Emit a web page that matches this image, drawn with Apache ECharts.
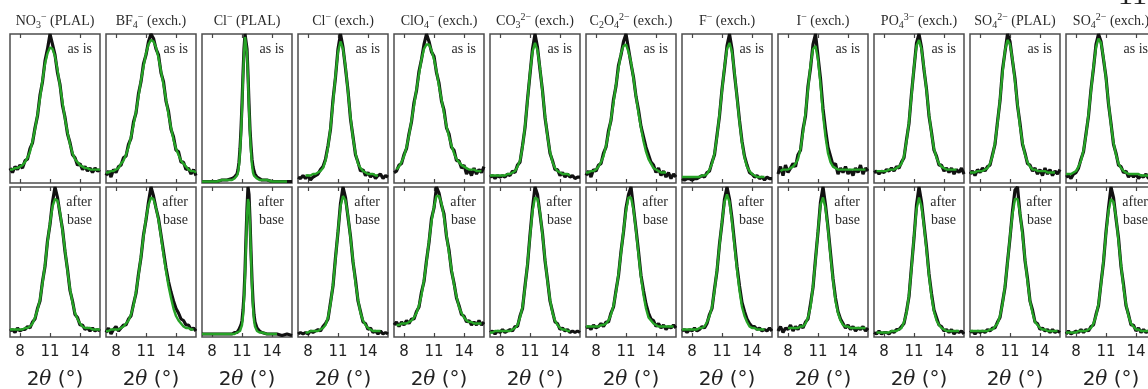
<!DOCTYPE html>
<html><head><meta charset="utf-8">
<script src="https://cdn.jsdelivr.net/npm/echarts@6/dist/echarts.min.js"></script>
<style>html,body{margin:0;padding:0;background:#fff}#c{width:1148px;height:389px}</style>
</head><body><div id="c"></div>
<script>
// 2θ grids (degrees)
const X = [7,7.25,7.5,7.75,8,8.25,8.5,8.75,9,9.25,9.5,9.75,10,10.25,10.5,10.75,11,11.25,11.5,11.75,12,12.25,12.5,12.75,13,13.25,13.5,13.75,14,14.25,14.5,14.75,15,15.25,15.5,15.75,16];
const XN = [7,7.5,8,8.5,9,9.5,10,10.25,10.5,10.6,10.7,10.8,10.9,11,11.1,11.2,11.3,11.4,11.5,11.6,11.7,11.8,11.9,12,12.1,12.2,12.3,12.5,12.75,13,13.5,14,14.5,15,15.5,16];
const titles = [
 '{b|NO}{sub|3}{sup|−}{b| (PLAL)}',
 '{b|BF}{sub|4}{sup|−}{b| (exch.)}',
 '{b|Cl}{sup|−}{b| (PLAL)}',
 '{b|Cl}{sup|−}{b| (exch.)}',
 '{b|ClO}{sub|4}{sup|−}{b| (exch.)}',
 '{b|CO}{sub|3}{sup|2−}{b| (exch.)}',
 '{b|C}{sub|2}{b|O}{sub|4}{sup|2−}{b| (exch.)}',
 '{b|F}{sup|−}{b| (exch.)}',
 '{b|I}{sup|−}{b| (exch.)}',
 '{b|PO}{sub|4}{sup|3−}{b| (exch.)}',
 '{b|SO}{sub|4}{sup|2−}{b| (PLAL)}',
 '{b|SO}{sub|4}{sup|2−}{b| (exch.)}'
];
const noteTop = ['as is'];
const noteBottom = ['after', 'base'];
const xTicks = [8, 11, 14];
const axisTitle = '{n|2}{t|θ}{n| (°)}';
const pageNum = '11';

// Row A: "as is" — fit (green) and observed (black), normalised intensity
const fitA0 = [0.09,0.09,0.10,0.10,0.11,0.12,0.14,0.17,0.21,0.28,0.36,0.46,0.57,0.69,0.80,0.87,0.91,0.90,0.85,0.76,0.65,0.54,0.43,0.34,0.26,0.20,0.16,0.14,0.12,0.11,0.10,0.10,0.09,0.09,0.09,0.09,0.09];
const obsA0 = [0.10,0.07,0.11,0.09,0.12,0.10,0.15,0.16,0.23,0.27,0.37,0.45,0.59,0.68,0.82,0.90,1.00,0.93,0.86,0.74,0.66,0.52,0.44,0.33,0.27,0.19,0.17,0.12,0.13,0.09,0.11,0.08,0.10,0.07,0.10,0.08,0.09];
const fitA1 = [0.07,0.07,0.08,0.08,0.09,0.10,0.13,0.15,0.19,0.24,0.31,0.39,0.48,0.58,0.69,0.78,0.87,0.93,0.96,0.95,0.91,0.84,0.75,0.66,0.56,0.46,0.37,0.29,0.23,0.19,0.15,0.13,0.11,0.09,0.08,0.08,0.07];
const obsA1 = [0.05,0.08,0.04,0.09,0.07,0.11,0.12,0.17,0.18,0.26,0.30,0.41,0.47,0.60,0.68,0.80,0.86,0.95,1.00,0.97,0.90,0.86,0.74,0.68,0.55,0.48,0.36,0.31,0.22,0.21,0.14,0.14,0.09,0.10,0.06,0.09,0.05];
const fitA2 = [0.01,0.01,0.01,0.01,0.02,0.02,0.02,0.03,0.05,0.07,0.12,0.21,0.33,0.50,0.70,0.87,0.98,0.98,0.87,0.70,0.50,0.33,0.21,0.12,0.07,0.05,0.04,0.03,0.02,0.02,0.02,0.01,0.01,0.01,0.01,null];
const obsA2 = [0.01,0.01,0.01,0.01,0.02,0.02,0.03,0.04,0.06,0.09,0.14,0.23,0.36,0.53,0.73,0.90,1.00,1.00,0.90,0.73,0.53,0.36,0.25,0.16,0.11,0.08,0.06,0.04,0.03,0.02,0.02,0.01,0.01,0.01,0.01,0.01];
const fitA3 = [null,null,null,0.05,0.05,0.05,0.06,0.06,0.07,0.08,0.10,0.15,0.24,0.37,0.54,0.72,0.88,0.95,0.90,0.78,0.61,0.44,0.30,0.20,0.13,0.10,0.08,0.07,0.06,0.06,0.06,0.05,0.05,null,null,null,null];
const obsA3 = [0.04,0.03,0.05,0.03,0.05,0.02,0.04,0.05,0.06,0.09,0.11,0.16,0.25,0.36,0.56,0.71,0.90,1.00,0.91,0.77,0.62,0.43,0.31,0.19,0.14,0.08,0.09,0.05,0.07,0.04,0.06,0.03,0.05,0.06,0.03,0.05,0.04];
const fitA4 = [null,0.09,0.11,0.14,0.18,0.24,0.32,0.42,0.52,0.63,0.73,0.83,0.90,0.93,0.93,0.89,0.83,0.75,0.65,0.56,0.47,0.38,0.31,0.25,0.20,0.16,0.14,0.12,0.11,0.10,0.09,0.09,0.09,0.08,0.08,0.08,null];
const obsA4 = [0.07,0.08,0.12,0.13,0.19,0.23,0.33,0.41,0.54,0.62,0.75,0.83,0.93,1.00,0.95,0.88,0.85,0.74,0.67,0.55,0.49,0.37,0.33,0.24,0.22,0.15,0.15,0.10,0.12,0.06,0.09,0.05,0.10,0.06,0.09,0.07,0.11];
const fitA5 = [0.05,0.05,0.05,0.05,0.05,0.05,0.05,0.06,0.06,0.07,0.08,0.11,0.15,0.24,0.38,0.55,0.74,0.88,0.94,0.89,0.77,0.61,0.45,0.31,0.21,0.14,0.10,0.08,0.07,0.06,0.06,0.06,0.05,null,null,null,null];
const obsA5 = [0.04,0.05,0.03,0.05,0.04,0.05,0.04,0.06,0.05,0.08,0.07,0.12,0.14,0.25,0.37,0.56,0.73,0.90,1.00,0.91,0.76,0.62,0.44,0.32,0.20,0.15,0.09,0.09,0.05,0.07,0.04,0.06,0.04,0.05,0.03,0.04,0.04];
const fitA6 = [0.07,0.07,0.08,0.08,0.09,0.11,0.14,0.18,0.25,0.33,0.43,0.54,0.66,0.77,0.87,0.92,0.93,0.88,0.81,0.70,0.58,0.47,0.37,0.28,0.21,0.16,0.13,0.10,0.09,0.08,0.07,0.07,0.07,null,null,null,null];
const obsA6 = [0.05,0.08,0.04,0.09,0.08,0.12,0.13,0.20,0.24,0.35,0.42,0.56,0.65,0.79,0.86,0.95,1.00,0.90,0.80,0.71,0.58,0.49,0.38,0.31,0.24,0.19,0.14,0.12,0.07,0.10,0.05,0.08,0.04,0.07,0.03,0.06,0.04];
const fitA7 = [0.04,0.04,0.04,0.04,0.04,0.04,0.04,0.04,0.05,0.05,0.06,0.09,0.13,0.20,0.31,0.46,0.62,0.78,0.90,0.94,0.88,0.74,0.57,0.41,0.27,0.17,0.11,0.08,0.06,0.05,0.04,0.04,0.04,0.04,null,null,null];
const obsA7 = [0.03,0.02,0.03,0.03,0.02,0.03,0.03,0.04,0.05,0.04,0.07,0.08,0.14,0.19,0.32,0.45,0.63,0.77,0.92,1.00,0.90,0.73,0.58,0.42,0.28,0.18,0.12,0.07,0.06,0.04,0.05,0.03,0.04,0.02,0.04,0.03,0.03];
const fitA8 = [null,0.08,0.09,0.09,0.09,0.10,0.11,0.13,0.16,0.23,0.34,0.47,0.63,0.79,0.90,0.92,0.83,0.66,0.46,0.31,0.20,0.14,0.11,0.10,0.09,0.09,0.09,0.09,0.09,0.09,0.09,0.09,0.09,0.09,0.09,0.09,null];
const obsA8 = [0.06,0.11,0.05,0.12,0.07,0.10,0.13,0.11,0.19,0.22,0.36,0.45,0.65,0.77,0.93,1.00,0.85,0.70,0.50,0.36,0.24,0.18,0.12,0.13,0.06,0.10,0.07,0.11,0.06,0.09,0.05,0.10,0.07,0.12,0.06,0.10,0.08];
const fitA9 = [null,0.08,0.08,0.08,0.08,0.08,0.09,0.09,0.09,0.10,0.11,0.13,0.18,0.28,0.41,0.59,0.78,0.92,0.96,0.90,0.77,0.62,0.46,0.33,0.23,0.17,0.13,0.11,0.10,0.09,0.09,0.09,0.09,0.09,null,null,null];
const obsA9 = [0.07,0.08,0.06,0.08,0.07,0.09,0.08,0.10,0.08,0.11,0.10,0.14,0.17,0.29,0.40,0.60,0.77,0.94,1.00,0.91,0.76,0.63,0.45,0.34,0.22,0.18,0.12,0.12,0.08,0.10,0.07,0.10,0.06,0.09,0.07,0.10,0.06];
const fitA10 = [0.07,0.07,0.07,0.08,0.08,0.08,0.09,0.10,0.13,0.18,0.27,0.40,0.56,0.74,0.89,0.96,0.93,0.83,0.68,0.53,0.38,0.27,0.19,0.14,0.11,0.09,0.09,0.08,0.08,0.08,0.08,0.07,0.07,0.07,0.07,null,null];
const obsA10 = [0.06,0.08,0.05,0.09,0.07,0.10,0.08,0.11,0.12,0.19,0.26,0.41,0.55,0.76,0.88,1.00,0.95,0.82,0.70,0.52,0.40,0.26,0.20,0.13,0.12,0.08,0.10,0.06,0.09,0.05,0.10,0.06,0.09,0.05,0.08,0.06,0.09];
const fitA11 = [0.06,0.06,0.06,0.07,0.08,0.11,0.15,0.22,0.32,0.46,0.62,0.78,0.91,0.97,0.94,0.84,0.70,0.54,0.39,0.27,0.19,0.13,0.10,0.08,0.07,0.06,0.06,0.06,0.06,0.06,0.05,0.05,0.05,0.05,0.05,0.05,0.05];
const obsA11 = [0.04,0.05,0.03,0.06,0.07,0.10,0.16,0.21,0.33,0.45,0.63,0.77,0.93,1.00,0.95,0.83,0.71,0.53,0.40,0.26,0.20,0.12,0.11,0.07,0.08,0.04,0.06,0.04,0.06,0.03,0.05,0.04,0.06,0.03,0.05,0.04,0.05];

// Row B: "after base"
const fitB0 = [0.05,0.05,0.05,0.05,0.05,0.05,0.06,0.06,0.07,0.09,0.13,0.18,0.25,0.36,0.48,0.63,0.76,0.87,0.92,0.91,0.83,0.71,0.58,0.44,0.32,0.23,0.16,0.12,0.09,0.07,0.06,0.06,0.06,0.05,0.05,0.05,0.05];
const obsB0 = [0.04,0.05,0.03,0.06,0.04,0.05,0.05,0.07,0.06,0.10,0.12,0.19,0.24,0.37,0.47,0.64,0.75,0.90,1.00,0.93,0.82,0.72,0.57,0.45,0.31,0.24,0.15,0.13,0.08,0.08,0.05,0.06,0.04,0.06,0.04,0.05,0.04];
const fitB1 = [0.04,0.04,0.05,0.05,0.05,0.05,0.06,0.07,0.09,0.11,0.15,0.21,0.30,0.41,0.54,0.67,0.79,0.88,0.93,0.92,0.86,0.78,0.67,0.55,0.44,0.34,0.26,0.19,0.14,0.11,0.09,0.07,0.06,0.06,0.05,0.05,null];
const obsB1 = [0.03,0.06,0.02,0.05,0.07,0.04,0.06,0.08,0.08,0.12,0.14,0.22,0.29,0.42,0.53,0.68,0.78,0.90,1.00,0.94,0.86,0.79,0.68,0.57,0.46,0.37,0.30,0.24,0.19,0.16,0.12,0.11,0.08,0.08,0.05,0.06,0.04];
const fitB2 = [0.02,0.02,0.02,0.02,0.02,0.02,0.02,0.02,0.03,0.03,0.03,0.04,0.05,0.08,0.14,0.25,0.41,0.62,0.82,0.92,0.89,0.74,0.54,0.34,0.20,0.11,0.07,0.04,0.03,0.03,0.02,0.02,0.02,null,null,null];
const obsB2 = [0.02,0.02,0.02,0.02,0.02,0.02,0.02,0.03,0.03,0.04,0.05,0.06,0.08,0.11,0.18,0.28,0.44,0.66,0.86,1.00,0.95,0.78,0.57,0.38,0.24,0.15,0.10,0.06,0.04,0.03,0.02,0.02,0.02,0.01,0.02,0.01];
const fitB3 = [null,null,null,0.03,0.03,0.04,0.04,0.04,0.04,0.05,0.06,0.08,0.13,0.22,0.35,0.52,0.71,0.87,0.94,0.91,0.81,0.66,0.51,0.36,0.25,0.16,0.11,0.08,0.06,0.05,0.04,0.04,0.04,0.04,null,null,null];
const obsB3 = [0.02,0.03,0.02,0.03,0.02,0.04,0.03,0.04,0.05,0.04,0.07,0.09,0.12,0.23,0.34,0.53,0.70,0.89,1.00,0.93,0.80,0.67,0.50,0.38,0.24,0.17,0.10,0.09,0.05,0.06,0.03,0.04,0.02,0.04,0.02,0.03,0.02];
const fitB4 = [null,0.08,0.08,0.09,0.09,0.09,0.10,0.11,0.13,0.16,0.21,0.28,0.38,0.50,0.64,0.77,0.87,0.94,0.94,0.89,0.80,0.68,0.56,0.45,0.35,0.27,0.20,0.16,0.13,0.11,0.10,0.10,0.09,0.09,0.09,0.09,null];
const obsB4 = [0.08,0.10,0.07,0.10,0.08,0.11,0.09,0.12,0.12,0.17,0.20,0.30,0.37,0.51,0.63,0.79,0.86,1.00,0.96,0.88,0.82,0.67,0.58,0.44,0.36,0.26,0.21,0.15,0.14,0.10,0.11,0.08,0.10,0.08,0.11,0.08,0.10];
const fitB5 = [0.03,0.03,0.04,0.04,0.04,0.04,0.04,0.04,0.04,0.05,0.06,0.08,0.13,0.20,0.33,0.49,0.67,0.84,0.93,0.92,0.83,0.68,0.52,0.37,0.25,0.16,0.11,0.08,0.06,0.05,0.05,0.04,0.04,null,null,null,null];
const obsB5 = [0.03,0.04,0.02,0.04,0.03,0.05,0.03,0.04,0.05,0.04,0.07,0.07,0.14,0.19,0.34,0.48,0.68,0.86,1.00,0.95,0.82,0.69,0.51,0.38,0.24,0.17,0.10,0.09,0.05,0.06,0.04,0.05,0.03,0.04,0.03,0.04,0.03];
const fitB6 = [0.07,0.07,0.07,0.07,0.07,0.07,0.08,0.08,0.09,0.11,0.15,0.21,0.30,0.42,0.56,0.71,0.84,0.93,0.93,0.85,0.71,0.55,0.40,0.28,0.19,0.13,0.11,0.09,0.08,0.07,0.07,0.07,0.07,0.07,0.07,0.07,null];
const obsB6 = [0.06,0.07,0.05,0.08,0.06,0.07,0.09,0.07,0.10,0.10,0.16,0.20,0.31,0.41,0.57,0.70,0.86,0.95,1.00,0.86,0.72,0.57,0.41,0.31,0.22,0.16,0.12,0.11,0.07,0.09,0.06,0.08,0.05,0.07,0.06,0.08,0.06];
const fitB7 = [0.05,0.05,0.05,0.05,0.05,0.05,0.05,0.06,0.06,0.07,0.10,0.14,0.20,0.31,0.45,0.61,0.77,0.90,0.95,0.90,0.77,0.61,0.45,0.31,0.20,0.14,0.10,0.07,0.06,0.06,0.05,0.05,0.05,0.05,null,null,null];
const obsB7 = [0.04,0.05,0.03,0.05,0.04,0.06,0.04,0.05,0.07,0.06,0.09,0.15,0.19,0.32,0.44,0.62,0.76,0.92,1.00,0.92,0.79,0.63,0.47,0.34,0.23,0.17,0.12,0.09,0.07,0.07,0.05,0.06,0.04,0.05,0.04,0.06,0.04];
const fitB8 = [null,null,null,null,0.06,0.06,0.06,0.06,0.06,0.07,0.07,0.09,0.13,0.20,0.34,0.51,0.71,0.88,0.93,0.86,0.72,0.54,0.38,0.24,0.16,0.11,0.08,0.07,0.07,0.06,0.06,0.06,0.06,0.06,0.06,0.06,null];
const obsB8 = [0.04,0.07,0.03,0.06,0.05,0.08,0.04,0.07,0.05,0.08,0.06,0.10,0.12,0.22,0.33,0.52,0.70,0.90,1.00,0.88,0.73,0.56,0.39,0.26,0.17,0.12,0.09,0.06,0.08,0.05,0.07,0.04,0.06,0.05,0.07,0.04,0.06];
const fitB9 = [null,0.03,0.03,0.03,0.03,0.03,0.03,0.04,0.04,0.04,0.05,0.06,0.10,0.16,0.28,0.46,0.67,0.85,0.93,0.87,0.74,0.58,0.41,0.27,0.17,0.11,0.08,0.06,0.05,0.04,0.04,0.04,0.04,0.04,0.04,null,null];
const obsB9 = [0.03,0.02,0.04,0.02,0.03,0.03,0.02,0.04,0.03,0.05,0.05,0.07,0.09,0.17,0.27,0.47,0.66,0.88,1.00,0.90,0.75,0.60,0.42,0.29,0.18,0.13,0.08,0.07,0.04,0.05,0.03,0.05,0.02,0.04,0.03,0.04,0.02];
const fitB10 = [0.04,0.04,0.04,0.04,0.04,0.04,0.04,0.04,0.05,0.05,0.07,0.09,0.14,0.22,0.34,0.49,0.67,0.82,0.92,0.92,0.83,0.68,0.52,0.37,0.24,0.16,0.10,0.08,0.06,0.05,0.05,0.04,0.04,0.04,0.04,0.04,null];
const obsB10 = [0.03,0.04,0.02,0.04,0.03,0.04,0.03,0.05,0.04,0.06,0.06,0.10,0.13,0.23,0.33,0.50,0.66,0.84,0.98,1.00,0.82,0.70,0.51,0.39,0.24,0.18,0.10,0.09,0.05,0.06,0.04,0.05,0.03,0.05,0.03,0.04,0.03];
const fitB11 = [0.03,0.03,0.03,0.03,0.03,0.04,0.04,0.04,0.04,0.05,0.06,0.09,0.14,0.22,0.35,0.51,0.69,0.84,0.92,0.90,0.80,0.64,0.48,0.33,0.22,0.14,0.09,0.07,0.05,0.05,0.04,0.04,0.04,0.04,0.04,0.04,0.04];
const obsB11 = [0.02,0.04,0.02,0.03,0.04,0.03,0.05,0.03,0.05,0.04,0.07,0.08,0.15,0.21,0.36,0.50,0.70,0.86,1.00,0.93,0.79,0.66,0.47,0.35,0.21,0.15,0.08,0.08,0.04,0.06,0.03,0.05,0.03,0.04,0.02,0.04,0.03];

const xGrids = [X, X, XN, X, X, X, X, X, X, X, X, X];
const fits = [[fitA0,fitA1,fitA2,fitA3,fitA4,fitA5,fitA6,fitA7,fitA8,fitA9,fitA10,fitA11],
              [fitB0,fitB1,fitB2,fitB3,fitB4,fitB5,fitB6,fitB7,fitB8,fitB9,fitB10,fitB11]];
const obs = [[obsA0,obsA1,obsA2,obsA3,obsA4,obsA5,obsA6,obsA7,obsA8,obsA9,obsA10,obsA11],
             [obsB0,obsB1,obsB2,obsB3,obsB4,obsB5,obsB6,obsB7,obsB8,obsB9,obsB10,obsB11]];

function pairs(xs, ys) {
  return xs.map((x, k) => [x, ys[k]]).filter(p => p[1] !== null && p[1] !== undefined);
}

const chart = echarts.init(document.getElementById('c'), null, { renderer: 'canvas' });
const N = 12;
const grids = [], xBottom = [], xTop = [], yAxes = [], series = [], graphics = [];
const serif = 'Liberation Serif';
const textCol = '#2a2a2a';
const richTitle = {
  b:   { fontFamily: serif, fontSize: 14, lineHeight: 18, fill: textCol, color: textCol },
  sub: { fontFamily: serif, fontSize: 10, lineHeight: 12, verticalAlign: 'bottom', fill: textCol, color: textCol },
  sup: { fontFamily: serif, fontSize: 10, lineHeight: 10, verticalAlign: 'top', fill: textCol, color: textCol }
};

for (let r = 0; r < 2; r++) {
  for (let i = 0; i < N; i++) {
    const idx = r * N + i;
    const left = 10 + 96 * i;
    const top = r === 0 ? 34 : 187;
    const h = r === 0 ? 149 : 150;
    grids.push({ left: left, top: top, width: 90, height: h, show: true,
      borderColor: '#4d4d4d', borderWidth: 1.5, backgroundColor: 'rgba(0,0,0,0)',
      containLabel: false, outerBoundsMode: 'none' });
    const tickCfg = { show: true, inside: true, length: 4, customValues: xTicks,
      lineStyle: { color: '#444', width: 1.2 } };
    xBottom.push({ gridIndex: idx, type: 'value', min: 7, max: 16, position: 'bottom',
      axisLine: { show: false }, splitLine: { show: false }, axisTick: tickCfg,
      axisLabel: { show: r === 1, customValues: xTicks, margin: 8, fontSize: 15,
        fontFamily: 'DejaVu Sans', color: '#222' },
      name: r === 1 ? axisTitle : '', nameLocation: 'middle', nameGap: 33,
      nameTextStyle: { fontSize: 20, fontFamily: 'DejaVu Sans', color: '#222',
        rich: { n: { fontSize: 20, fontFamily: 'DejaVu Sans', color: '#222' },
                t: { fontSize: 20, fontFamily: 'DejaVu Serif', fontStyle: 'italic', color: '#222' } } } });
    xTop.push({ gridIndex: idx, type: 'value', min: 7, max: 16, position: 'top',
      axisLine: { show: false }, splitLine: { show: false }, axisTick: tickCfg,
      axisLabel: { show: false } });
    yAxes.push({ gridIndex: idx, type: 'value', min: 0, max: 1, show: false,
      splitLine: { show: false } });
    const xs = xGrids[i];
    series.push({ type: 'line', xAxisIndex: idx, yAxisIndex: idx, data: pairs(xs, obs[r][i]),
      symbol: 'none', showSymbol: false, silent: true, animation: false, z: 2,
      lineStyle: { color: '#111', width: 3.2 } });
    series.push({ type: 'line', xAxisIndex: idx, yAxisIndex: idx, data: pairs(xs, fits[r][i]),
      symbol: 'none', showSymbol: false, silent: true, animation: false, z: 3,
      lineStyle: { color: '#26a326', width: 2.4 } });
    if (r === 0) {
      graphics.push({ type: 'text', x: left + 45, y: 21, silent: true,
        style: { text: titles[i], align: 'center', verticalAlign: 'middle',
          fontFamily: serif, fontSize: 14, fill: textCol, rich: richTitle } });
      graphics.push({ type: 'text', x: left + 82, y: 49, silent: true,
        style: { text: noteTop[0], align: 'right', verticalAlign: 'middle',
          fontFamily: serif, fontSize: 14, fill: textCol } });
    } else {
      graphics.push({ type: 'text', x: left + 82, y: 202, silent: true,
        style: { text: noteBottom[0], align: 'right', verticalAlign: 'middle',
          fontFamily: serif, fontSize: 14, fill: textCol } });
      graphics.push({ type: 'text', x: left + 82, y: 220, silent: true,
        style: { text: noteBottom[1], align: 'right', verticalAlign: 'middle',
          fontFamily: serif, fontSize: 14, fill: textCol } });
    }
  }
}
graphics.push({ type: 'text', x: 1118, y: -19, silent: true,
  style: { text: pageNum, align: 'left', verticalAlign: 'top', fontFamily: serif, fontSize: 30, fill: '#222' } });

chart.setOption({
  backgroundColor: '#fff',
  animation: false,
  grid: grids,
  xAxis: xBottom.concat(xTop),
  yAxis: yAxes,
  series: series,
  graphic: graphics
});
</script>
</body></html>
